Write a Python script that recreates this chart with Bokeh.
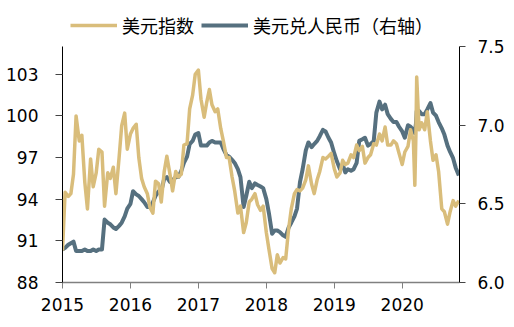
import numpy as np
import pandas as pd
from bokeh.plotting import figure
from bokeh.models import (Range1d, LinearAxis, FixedTicker, PrintfTickFormatter,
                          Legend, LegendItem)
from bokeh.embed import file_html
from bokeh.resources import INLINE

# ---------------- data ----------------
dates = [
    "2015-01-01", "2015-01-15", "2015-02-01", "2015-02-15", "2015-03-01", "2015-03-15",
    "2015-04-01", "2015-04-15", "2015-05-01", "2015-05-15", "2015-06-01", "2015-06-15",
    "2015-07-01", "2015-07-15", "2015-08-01", "2015-08-15", "2015-09-01", "2015-09-15",
    "2015-10-01", "2015-10-15", "2015-11-01", "2015-11-15", "2015-12-01", "2015-12-15",
    "2016-01-01", "2016-01-15", "2016-02-01", "2016-02-15", "2016-03-01", "2016-03-15",
    "2016-04-01", "2016-04-15", "2016-05-01", "2016-05-15", "2016-06-01", "2016-06-15",
    "2016-07-01", "2016-07-15", "2016-08-01", "2016-08-15", "2016-09-01", "2016-09-15",
    "2016-10-01", "2016-10-15", "2016-11-01", "2016-11-15", "2016-12-01", "2016-12-15",
    "2017-01-01", "2017-01-15", "2017-02-01", "2017-02-15", "2017-03-01", "2017-03-15",
    "2017-04-01", "2017-04-15", "2017-05-01", "2017-05-15", "2017-06-01", "2017-06-15",
    "2017-07-01", "2017-07-15", "2017-08-01", "2017-08-15", "2017-09-01", "2017-09-15",
    "2017-10-01", "2017-10-15", "2017-11-01", "2017-11-15", "2017-12-01", "2017-12-15",
    "2018-01-01", "2018-01-15", "2018-02-01", "2018-02-15", "2018-03-01", "2018-03-15",
    "2018-04-01", "2018-04-15", "2018-05-01", "2018-05-15", "2018-06-01", "2018-06-15",
    "2018-07-01", "2018-07-15", "2018-08-01", "2018-08-15", "2018-09-01", "2018-09-15",
    "2018-10-01", "2018-10-15", "2018-11-01", "2018-11-15", "2018-12-01", "2018-12-15",
    "2019-01-01", "2019-01-15", "2019-02-01", "2019-02-15", "2019-03-01", "2019-03-15",
    "2019-04-01", "2019-04-15", "2019-05-01", "2019-05-15", "2019-06-01", "2019-06-15",
    "2019-07-01", "2019-07-15", "2019-08-01", "2019-08-15", "2019-09-01", "2019-09-15",
    "2019-10-01", "2019-10-15", "2019-11-01", "2019-11-15", "2019-12-01", "2019-12-15",
    "2020-01-01", "2020-01-15", "2020-02-01", "2020-02-15", "2020-03-01", "2020-03-09",
    "2020-03-15", "2020-03-19", "2020-04-01", "2020-04-15", "2020-05-01", "2020-05-15",
    "2020-06-01", "2020-06-15", "2020-07-01", "2020-07-15", "2020-08-01", "2020-08-15",
    "2020-09-01", "2020-09-15", "2020-10-01", "2020-10-15", "2020-11-01",
]

# 美元指数 (left axis)
dxy = [
    90.3, 94.5, 94.2, 94.4, 95.8, 100.0, 98.2, 98.6, 95.2, 93.3, 96.9, 94.9,
    95.9, 97.6, 97.4, 93.5, 95.9, 95.5, 96.3, 94.4, 97.0, 99.3, 100.2, 97.6,
    98.7, 99.1, 99.4, 97.0, 95.5, 94.9, 94.4, 93.4, 93.0, 95.3, 95.1, 93.8,
    96.0, 97.1, 95.8, 94.6, 96.0, 95.6, 95.8, 97.9, 98.0, 100.5, 101.5, 103.0,
    103.3, 101.2, 99.9, 101.0, 101.9, 100.8, 100.3, 100.5, 99.1, 98.2, 97.0, 97.0,
    95.6, 94.6, 93.0, 93.5, 91.6, 92.3, 93.8, 94.0, 94.4, 93.6, 93.2, 93.5,
    91.6, 90.4, 89.0, 88.7, 90.0, 89.4, 89.8, 89.7, 91.9, 93.3, 94.4, 94.7,
    94.6, 94.8, 95.4, 96.4, 95.1, 94.4, 95.4, 96.0, 97.0, 96.9, 97.1, 97.3,
    96.2, 95.6, 95.9, 96.8, 96.5, 96.6, 97.2, 97.0, 97.9, 97.5, 97.8, 96.6,
    97.0, 97.2, 98.0, 97.9, 98.7, 98.2, 99.2, 97.9, 97.9, 98.2, 98.0, 97.3,
    96.5, 97.4, 97.8, 99.0, 98.2, 95.0, 98.8, 102.8, 99.0, 99.5, 99.0, 100.3,
    98.2, 96.8, 97.2, 96.0, 93.3, 93.1, 92.2, 93.1, 93.9, 93.5, 93.9,
]

# 美元兑人民币 (right axis)
cny = [
    6.21, 6.22, 6.24, 6.25, 6.26, 6.20, 6.20, 6.20, 6.21, 6.20, 6.20, 6.21,
    6.20, 6.21, 6.21, 6.40, 6.38, 6.37, 6.35, 6.34, 6.36, 6.38, 6.42, 6.47,
    6.50, 6.58, 6.56, 6.55, 6.53, 6.51, 6.48, 6.48, 6.51, 6.55, 6.58, 6.58,
    6.66, 6.67, 6.64, 6.65, 6.67, 6.67, 6.71, 6.76, 6.80, 6.88, 6.90, 6.94,
    6.95, 6.87, 6.87, 6.87, 6.89, 6.90, 6.89, 6.89, 6.89, 6.85, 6.81, 6.80,
    6.78, 6.76, 6.72, 6.67, 6.48, 6.55, 6.64, 6.60, 6.63, 6.62, 6.61, 6.60,
    6.53, 6.44, 6.31, 6.33, 6.33, 6.32, 6.30, 6.29, 6.35, 6.38, 6.42, 6.47,
    6.64, 6.72, 6.84, 6.89, 6.86, 6.88, 6.90, 6.93, 6.97, 6.96, 6.92, 6.89,
    6.82, 6.77, 6.72, 6.75, 6.70, 6.72, 6.71, 6.72, 6.76, 6.90, 6.91, 6.92,
    6.87, 6.88, 6.90, 7.08, 7.15, 7.10, 7.13, 7.07, 7.04, 7.02, 7.02, 6.99,
    6.96, 6.92, 7.00, 6.99, 6.97, 6.95, 7.01, 7.09, 7.09, 7.07, 7.07, 7.10,
    7.14, 7.08, 7.06, 7.02, 6.98, 6.94, 6.87, 6.83, 6.79, 6.73, 6.68,
]

series_labels = ["美元指数", "美元兑人民币（右轴）"]
year_ticks = [2015, 2016, 2017, 2018, 2019, 2020]
left_ticks = [88, 91, 94, 97, 100, 103]
right_ticks = [6.0, 6.5, 7.0, 7.5]
left_bounds = (88, 105)
right_bounds = (6.0, 7.5)

# ---------------- build ----------------
d = pd.to_datetime(dates)
days_in_year = np.where(d.is_leap_year, 366.0, 365.0)
x = (d.year + (d.dayofyear - 1) / days_in_year).to_numpy()

TAN = "#D9BD7B"
SLATE = "#56707F"
TICK_FONT = "DejaVu Sans"

# frame spans the full height (legend lives in its top strip); axes are bounded
p = figure(width=514, height=327, output_backend="svg", toolbar_location=None,
           x_range=Range1d(2015.0, 2020.843), y_range=Range1d(88, 108.314),
           min_border_left=62, min_border_right=55, min_border_bottom=45,
           min_border_top=0)
p.extra_y_ranges = {"cny": Range1d(6.0, 7.7924)}
p.outline_line_color = None
p.xgrid.visible = False
p.ygrid.visible = False
p.background_fill_color = "white"
p.border_fill_color = "white"

# secondary-axis series drawn first, dollar index on top
r2 = p.line(x, cny, line_color=SLATE, line_width=4, line_join="round",
            y_range_name="cny")
r1 = p.line(x, dxy, line_color=TAN, line_width=3.5, line_join="round")

# x axis
xa = p.xaxis[0]
xa.ticker = FixedTicker(ticks=year_ticks)
xa.axis_line_color = "#808080"
xa.axis_line_width = 1.5
xa.major_tick_line_color = "#808080"
xa.major_tick_in = 0
xa.major_tick_out = 6
xa.minor_tick_line_color = None
xa.major_label_standoff = 9

# left axis
ya = p.yaxis[0]
ya.ticker = FixedTicker(ticks=left_ticks)
ya.bounds = left_bounds
ya.axis_line_color = "black"
ya.major_tick_line_color = "#444444"
ya.major_tick_in = 0
ya.major_tick_out = 7
ya.minor_tick_line_color = None
ya.major_label_standoff = 17

# right axis
ra = LinearAxis(y_range_name="cny", ticker=FixedTicker(ticks=right_ticks),
                formatter=PrintfTickFormatter(format="%.1f"), bounds=right_bounds)
ra.axis_line_color = "black"
ra.major_tick_line_color = "#444444"
ra.major_tick_in = 0
ra.major_tick_out = 6
ra.minor_tick_line_color = None
ra.major_label_standoff = 12
p.add_layout(ra, "right")

for ax in (xa, ya, ra):
    ax.major_label_text_font = TICK_FONT
    ax.major_label_text_font_size = "17px"
    ax.major_label_text_color = "black"

legend = Legend(items=[LegendItem(label=series_labels[0], renderers=[r1]),
                       LegendItem(label=series_labels[1], renderers=[r2])],
                orientation="horizontal", location=(8, 244),
                label_text_font="Noto Sans CJK SC", label_text_font_size="18px",
                label_text_color="black",
                glyph_width=47, glyph_height=20, label_height=20,
                label_standoff=5, spacing=7,
                padding=5, margin=0, border_line_color=None,
                background_fill_alpha=0)
p.add_layout(legend, "center")

open("out.html", "w").write(file_html(p, INLINE))
